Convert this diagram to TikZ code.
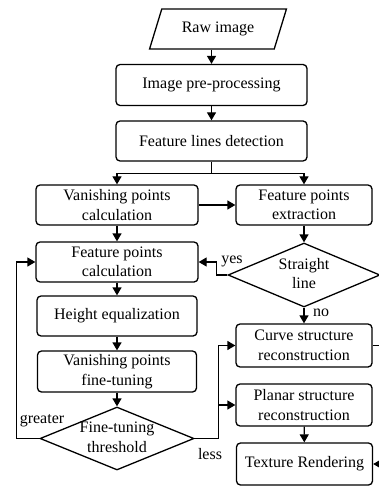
\documentclass[tikz,border=0pt]{standalone}
\usepackage{fontspec}
\setmainfont{Liberation Serif}
\usetikzlibrary{arrows.meta,shapes.geometric}

\newcommand{\twoline}[2]{\makebox[0pt]{\begin{tabular}{@{}c@{}}#1\\#2\end{tabular}}}

\begin{document}
\begin{tikzpicture}[x=1pt,y=-1pt,line width=1.3pt,
	font=\fontsize{16}{19.5}\selectfont,
	proc/.style={draw,rounded corners=4pt,align=center,inner sep=0pt,minimum height=41pt},
	io/.style={draw,trapezium,trapezium left angle=73,trapezium right angle=107,inner xsep=20pt,inner ysep=13pt},
	decide/.style={draw,diamond,inner sep=0pt,minimum width=154pt,minimum height=64pt},
	arr/.style={-{Triangle[length=8pt,width=9pt]}},
	lbl/.style={inner sep=0pt}]
			\useasboundingbox (0,0) rectangle (379,486);
			\clip (0,0) rectangle (379,486);

			\node[io] (raw) at (218,29) {Raw image};
			\node[proc,minimum width=191pt] (prep) at (211.5,85) {Image pre-processing};
			\node[proc,minimum width=191pt,minimum height=40pt] (detect) at (211.5,141) {Feature lines detection};
			\node[proc,minimum width=162pt,minimum height=40pt] (vpcalc) at (117,205) {Vanishing points\\calculation};
			\node[proc,minimum width=136pt,minimum height=40pt] (fpextr) at (304,205) {Feature points\\extraction};
			\node[proc,minimum width=162pt,minimum height=40pt] (fpcalc) at (117,262) {Feature points\\calculation};
			\node[decide,minimum width=152pt] (straight) at (304,275) {\twoline{Straight}{line}};
			\node[proc,minimum width=160pt,minimum height=40pt] (height) at (117,316) {Height equalization};
			\node[proc,minimum width=159pt] (vpfine) at (117,371.5) {Vanishing points\\fine-tuning};
			\node[decide,minimum height=63pt] (thresh) at (117,438.5) {\twoline{Fine-tuning}{threshold}};
			\node[proc,minimum width=136pt,minimum height=43pt] (curve) at (304,345.5) {Curve structure\\reconstruction};
			\node[proc,minimum width=136pt,minimum height=42pt] (planar) at (304,405) {Planar structure\\reconstruction};
			\node[proc,minimum width=136pt,minimum height=42pt] (render) at (304.5,464) {Texture Rendering};

			\draw[arr] (raw.south -| prep) -- (prep);
			\draw[arr] (prep) -- (detect);
			\draw (detect.south) -- ++(0,12) coordinate (split);
			\draw[arr] (split) -| (vpcalc);
			\draw[arr] (split) -| (fpextr);
			\draw[arr] (vpcalc) -- (fpextr);
			\draw[arr] (vpcalc) -- (fpcalc);
			\draw[arr] (fpextr) -- (straight);
			\draw[arr] (straight.west) -- ++(-11,0) |- (fpcalc);
			\draw[arr] (straight) -- (curve);
			\draw[arr] (fpcalc) -- (height);
			\draw[arr] (height) -- (vpfine);
			\draw[arr] (vpfine) -- (thresh);
			\draw[arr] (thresh.west) -- ++(-23,0) |- (fpcalc);
			\draw (thresh.east) -- ++(24,0) coordinate (less);
			\draw[arr] (less) |- (curve);
			\draw[arr] (less) |- (planar);
			\draw[arr] (planar) -- (render);
			\draw[arr] (curve.east) -- ++(22,0) |- (render);

			\node[lbl] (yeslbl) at (232,261) {yes};
			\node[lbl] (nolbl) at (321,313) {no};
			\node[lbl] (greaterlbl) at (42,421) {greater};
			\node[lbl] (lesslbl) at (210,454) {less};
		\end{tikzpicture}
\end{document}
